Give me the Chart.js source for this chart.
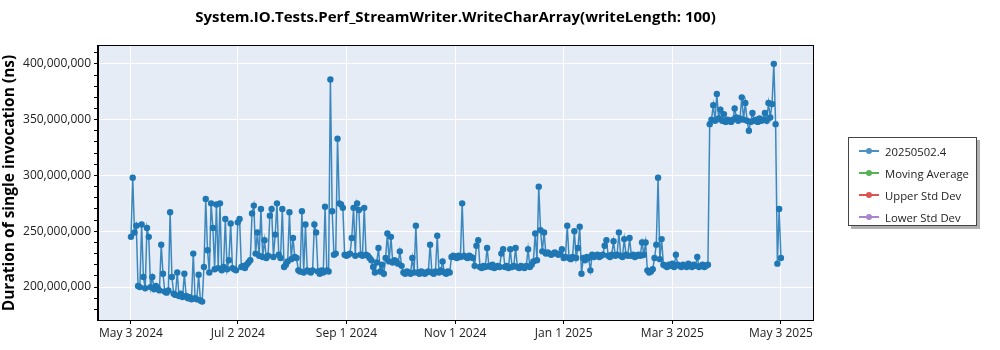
<!DOCTYPE html>
<html>
<head>
<meta charset="utf-8">
<script src="https://cdn.jsdelivr.net/npm/chart.js@4.4.1/dist/chart.umd.min.js"></script>
<style>
  html, body { margin: 0; padding: 0; background: #fff; }
  #wrap { position: relative; width: 1000px; height: 350px; }
  #legend {
    position: absolute; left: 848px; top: 137px; width: 129px; height: 89px;
    border: 1px solid #444; background: #fff; box-shadow: 3px 3px 0 #b0b0b0;
    font: 11.3px 'Open Sans', sans-serif; color: #222; padding-top: 2px; box-sizing: border-box;
  }
  .item { height: 22px; display: flex; align-items: center; }
  .swatch { position: relative; width: 20px; height: 2px; margin: 0 6px 0 10px; }
  .swatch i { position: absolute; left: 7px; top: -2px; width: 6px; height: 6px; border-radius: 50%; }
</style>
</head>
<body>
<div id="wrap">
  <canvas id="chart" width="1000" height="350"></canvas>
  <div id="legend"></div>
</div>
<script>
// 天数：以 2024-05-03 为第 0 天
const startDay = 0;
// 每天一次运行的耗时（百万纳秒）
const durationMillions = [
  245, 298, 249, 255, 201, 200, 256, 209, 199, 253,
  245, 200, 209, 198, 201, 199, 197, 238, 212, 196,
  195, 197, 267, 209, 194, 193, 213, 192, 194, 191,
  212, 192, 190, 191, 189, 230, 190, 189, 211, 188,
  187, 218, 279, 233, 213, 275, 253, 216, 274, 217,
  275, 215, 218, 261, 216, 224, 257, 217, 216, 215,
  258, 261, 218, 219, 217, 220, 222, 224, 266, 273,
  230, 249, 228, 270, 227, 242, 226, 228, 264, 270,
  227, 247, 275, 229, 226, 270, 218, 220, 223, 267,
  225, 244, 227, 226, 215, 214, 268, 213, 256, 215,
  214, 213, 215, 256, 249, 214, 212, 215, 213, 272,
  215, 214, 386, 268, 229, 230, 333, 275, 274, 271,
  229, 228, 229, 230, 244, 271, 228, 275, 269, 229,
  228, 271, 229, 228, 226, 224, 218, 213, 222, 235,
  214, 220, 212, 226, 248, 223, 245, 222, 224, 223,
  221, 232, 219, 213, 212, 214, 213, 212, 226, 213,
  255, 213, 212, 214, 213, 212, 213, 214, 238, 213,
  212, 214, 246, 213, 215, 223, 213, 212, 214, 213,
  227, 228, 227, 226, 228, 227, 275, 228, 227, 226,
  228, 227, 226, 219, 237, 242, 218, 217, 219, 218,
  235, 219, 218, 220, 217, 218, 219, 218, 230, 234,
  218, 219, 217, 234, 218, 219, 235, 218, 217, 219,
  218, 217, 219, 234, 218, 220, 223, 248, 224, 290,
  251, 232, 249, 230, 231, 230, 229, 230, 231, 230,
  229, 230, 234, 226, 227, 255, 226, 225, 227, 250,
  226, 235, 254, 212, 226, 224, 227, 226, 215, 229,
  227, 228, 229, 227, 228, 229, 237, 242, 228, 227,
  229, 241, 228, 229, 249, 228, 227, 243, 229, 228,
  244, 228, 229, 227, 228, 229, 228, 240, 229, 240,
  215, 213, 214, 216, 226, 238, 298, 225, 243, 220,
  219, 218, 220, 219, 221, 218, 229, 220, 219, 218,
  220, 219, 218, 221, 219, 218, 220, 219, 227, 218,
  219, 220, 218, 219, 220, 346, 350, 363, 349, 373,
  351, 359, 349, 355, 348, 350, 349, 348, 350, 360,
  352, 349, 351, 370, 350, 365, 349, 340, 348, 356,
  349, 350, 348, 351, 349, 350, 356, 349, 365, 352,
  364, 400, 346, 221, 270, 226
];

const tickDays = [0, 60, 121, 182, 243, 304, 365];
const tickLabels = ['May 3 2024', 'Jul 2 2024', 'Sep 1 2024', 'Nov 1 2024', 'Jan 1 2025', 'Mar 3 2025', 'May 3 2025'];
const yMajorTicks = [200, 250, 300, 350, 400];

const seriesNames = ['20250502.4', 'Moving Average', 'Upper Std Dev', 'Lower Std Dev'];
const seriesColors = ['#1f77b4', '#2ca02c', '#d62728', '#9467bd'];

const chartTitle = 'System.IO.Tests.Perf_StreamWriter.WriteCharArray(writeLength: 100)';
const FONT = "'Open Sans', sans-serif";

const points = durationMillions.map((v, i) => ({ x: startDay + i, y: v }));

// 绘图区背景 + 边框 + 标题（标题以绘图区居中）
const plotFrame = {
  id: 'plotFrame',
  beforeDraw(chart) {
    const { ctx, chartArea: a } = chart;
    ctx.save();
    ctx.fillStyle = '#E5ECF6';
    ctx.fillRect(a.left, a.top, a.right - a.left, a.bottom - a.top);
    ctx.restore();
  },
  afterDraw(chart) {
    const { ctx, chartArea: a } = chart;
    ctx.save();
    ctx.strokeStyle = '#000';
    ctx.lineWidth = 1;
    ctx.strokeRect(a.left - 0.5, a.top - 0.5, a.right - a.left + 1, a.bottom - a.top + 1);
    ctx.fillStyle = '#000';
    ctx.font = `bold 15px ${FONT}`;
    ctx.textAlign = 'center';
    ctx.textBaseline = 'middle';
    ctx.fillText(chartTitle, (a.left + a.right) / 2, 18);
    ctx.restore();
  },
};

const chart = new Chart(document.getElementById('chart'), {
  type: 'line',
  data: {
    datasets: seriesNames.map((name, i) => ({
      label: name,
      data: i === 0 ? points : [],
      borderColor: i === 0 ? 'rgba(31, 119, 180, 0.85)' : seriesColors[i],
      backgroundColor: seriesColors[i],
      borderWidth: 1.5,
      pointRadius: 3.2,
      pointBorderWidth: 0,
      pointBackgroundColor: seriesColors[i],
      tension: 0,
    })),
  },
  options: {
    responsive: false,
    animation: false,
    devicePixelRatio: 1,
    layout: { padding: { left: 0, right: 187, top: 46, bottom: 0 } },
    plugins: {
      legend: { display: false },
      tooltip: { enabled: false },
      title: { display: false },
    },
    scales: {
      x: {
        type: 'linear',
        min: -18.5,
        max: 383,
        afterBuildTicks: (s) => { s.ticks = tickDays.map((v) => ({ value: v })); },
        afterFit: (s) => { s.height = 30; },
        ticks: {
          autoSkip: false,
          maxRotation: 0,
          color: '#222',
          font: { family: FONT, size: 12 },
          padding: 2,
          callback: (v) => tickLabels[tickDays.indexOf(v)] || '',
        },
        grid: { color: '#fff', lineWidth: 1, tickColor: '#000', tickLength: 4 },
        border: { color: '#000', width: 1 },
      },
      y: {
        type: 'linear',
        min: 170.5,
        max: 416,
        afterBuildTicks: (s) => {
          const t = [];
          for (let v = 180; v <= 410; v += 10) t.push({ value: v });
          s.ticks = t;
        },
        afterFit: (s) => { s.width = 98; },
        ticks: {
          autoSkip: false,
          color: '#222',
          font: { family: FONT, size: 12 },
          padding: 3,
          callback: (v) => (yMajorTicks.includes(v) ? (v * 1e6).toLocaleString('en-US') : ''),
        },
        grid: {
          color: (c) => (yMajorTicks.includes(c.tick && c.tick.value) ? '#fff' : 'rgba(0,0,0,0)'),
          tickColor: '#000',
          tickLength: 4,
          lineWidth: 1,
        },
        border: { color: '#000', width: 1 },
        title: {
          display: true,
          text: 'Duration of single invocation (ns)',
          color: '#000',
          font: { family: FONT, size: 15.5, weight: 'bold' },
          padding: { top: 0, bottom: 2 },
        },
      },
    },
  },
  plugins: [plotFrame],
});

// 图例
const legendEl = document.getElementById('legend');
chart.data.datasets.forEach((ds, i) => {
  const row = document.createElement('div');
  row.className = 'item';
  row.innerHTML = `<span class="swatch" style="background:${seriesColors[i]};opacity:0.8"><i style="background:${seriesColors[i]}"></i></span><span>${ds.label}</span>`;
  legendEl.appendChild(row);
});
</script>
</body>
</html>
